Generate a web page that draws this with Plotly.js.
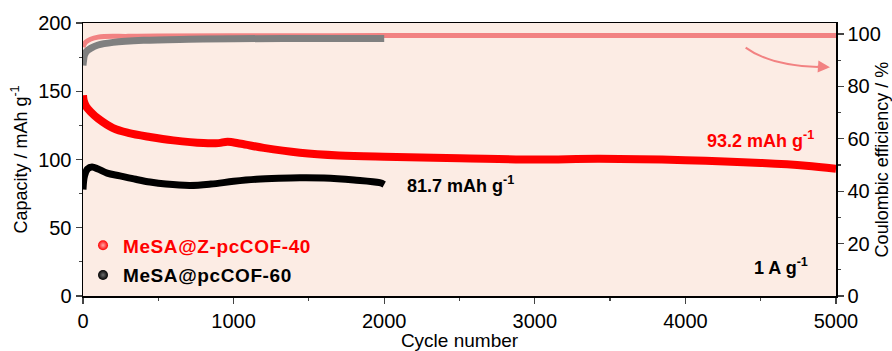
<!DOCTYPE html>
<html><head><meta charset="utf-8">
<script src="https://cdn.plot.ly/plotly-3.0.1.min.js"></script>
<style>html,body{margin:0;padding:0;background:#fff}</style>
</head><body><div id="chart" style="width:892px;height:351px"></div>
<script>
// Capacity (mAh g-1) vs cycle
const redCycles = [0, 5, 20, 50, 100, 200, 300, 445, 600, 800, 900, 960, 1050, 1200, 1440, 1700, 2000, 2500, 3000, 3430, 4000, 4500, 4800, 5000];
const redCap    = [147, 143, 139, 135, 130, 123, 119.5, 116.5, 114, 112, 112, 113, 111.5, 108.5, 105, 103, 102, 101, 100, 100.5, 99.5, 97.5, 95.5, 93.2];
const blackCycles = [0, 10, 30, 60, 100, 160, 245, 350, 445, 550, 710, 850, 1000, 1150, 1300, 1440, 1600, 1800, 1970, 2000];
const blackCap    = [78, 88, 93, 94.5, 93, 90, 88, 85.5, 83.5, 82, 81, 82, 84, 85.5, 86.3, 86.7, 86.5, 85, 83, 81.7];
// Coulombic efficiency (%)
const redCECycles = [0, 20, 100, 300, 500, 1000, 2000, 3000, 4000, 5000];
const redCE       = [95, 97, 98.8, 99.1, 99.2, 99.3, 99.4, 99.4, 99.4, 99.4];
const blackCECycles = [0, 5, 10, 25, 50, 100, 200, 400, 700, 1000, 1500, 2000];
const blackCE       = [88, 90.5, 92, 93.5, 94.5, 95.8, 96.8, 97.6, 98, 98.2, 98.3, 98.3];

const seriesNames = ['MeSA@Z-pcCOF-40', 'MeSA@pcCOF-60'];
const endLabels = ['93.2 mAh g<sup>-1</sup>', '81.7 mAh g<sup>-1</sup>'];
const rateLabel = '1 A g<sup>-1</sup>';

const RED = 'rgb(255,0,0)', BLACK = 'rgb(0,0,0)', PINK = 'rgb(242,130,130)', GREY = 'rgb(128,128,128)';
const LS = 'letter-spacing:0.6px';

const traces = [
  {x: redCECycles, y: redCE, yaxis: 'y2', mode: 'lines', line: {color: PINK, width: 5, shape: 'spline'}, showlegend: false, hoverinfo: 'skip'},
  {x: blackCECycles, y: blackCE, yaxis: 'y2', mode: 'lines', line: {color: GREY, width: 7, shape: 'spline'}, showlegend: false, hoverinfo: 'skip'},
  {x: redCycles, y: redCap, mode: 'lines', line: {color: RED, width: 8, shape: 'spline'}, showlegend: false},
  {x: blackCycles, y: blackCap, mode: 'lines', line: {color: BLACK, width: 7, shape: 'spline'}, showlegend: false},
  {x: [null], y: [null], mode: 'markers', name: '<b><span style="color:' + RED + ';' + LS + '">' + seriesNames[0] + '</span></b>', legendgroup: 'a',
   marker: {color: RED, size: 10, gradient: {type: 'radial', color: 'rgb(255,170,170)'}, line: {width: 0}}},
  {x: [null], y: [null], mode: 'markers', name: '<b><span style="' + LS + '">' + seriesNames[1] + '</span></b>', legendgroup: 'b',
   marker: {color: BLACK, size: 10, gradient: {type: 'radial', color: 'rgb(110,110,110)'}, line: {width: 0}}}
];

const fontFam = 'Liberation Sans, Arial, sans-serif';
const layout = {
  width: 892, height: 351,
  margin: {l: 83, r: 56, t: 23, b: 54.5},
  paper_bgcolor: '#ffffff', plot_bgcolor: 'rgb(252,236,228)',
  font: {family: fontFam, size: 20, color: '#000'},
  xaxis: {range: [0, 5000], tickvals: [0, 1000, 2000, 3000, 4000, 5000], ticks: 'outside', ticklen: 6, tickwidth: 1.3,
    minor: {dtick: 500, ticks: 'outside', ticklen: 3, tickwidth: 1.2}, showgrid: false, zeroline: false,
    showline: true, linecolor: '#000', linewidth: 1.5, mirror: true,
    tickfont: {size: 20}, title: {text: 'Cycle number', font: {size: 19}, standoff: 6}},
  yaxis: {range: [0, 200], tickvals: [0, 50, 100, 150, 200], ticks: 'outside', ticklen: 6, tickwidth: 1.3,
    minor: {dtick: 25, ticks: 'outside', ticklen: 3, tickwidth: 1.2}, showgrid: false, zeroline: false,
    showline: true, linecolor: '#000', linewidth: 1.5,
    tickfont: {size: 20}, title: {text: 'Capacity / mAh g<sup>-1</sup>', font: {size: 18}, standoff: 6}},
  yaxis2: {range: [0, 104.2], overlaying: 'y', side: 'right', tickvals: [0, 20, 40, 60, 80, 100], ticks: 'outside', ticklen: 6, tickwidth: 1.3,
    minor: {dtick: 10, ticks: 'outside', ticklen: 3, tickwidth: 1.2}, showgrid: false, zeroline: false,
    showline: true, linecolor: '#000', linewidth: 1.5,
    tickfont: {size: 20}, title: {text: 'Coulombic efficiency / %', font: {size: 18}, standoff: 6}},
  showlegend: true,
  legend: {x: 0.0, y: 0.255, xanchor: 'left', yanchor: 'top', bgcolor: 'rgba(0,0,0,0)', borderwidth: 0,
    font: {family: fontFam, size: 19}, traceorder: 'grouped', tracegroupgap: 2, itemwidth: 30},
  annotations: [
    {xref: 'x', yref: 'y', x: 4870, y: 115, xanchor: 'right', yanchor: 'middle', showarrow: false,
     text: '<b>' + endLabels[0] + '</b>', font: {size: 18, color: RED}},
    {xref: 'x', yref: 'y', x: 2140, y: 81.5, xanchor: 'left', yanchor: 'middle', showarrow: false,
     text: '<b>' + endLabels[1] + '</b>', font: {size: 18, color: BLACK}},
    {xref: 'x', yref: 'y', x: 4830, y: 21.5, xanchor: 'right', yanchor: 'middle', showarrow: false,
     text: '<b>' + rateLabel + '</b>', font: {size: 18, color: BLACK}},
    {xref: 'x', yref: 'y', x: 4960, y: 167.5, ax: -14, ay: -1, showarrow: true, arrowhead: 2, arrowsize: 1.2, arrowwidth: 2, arrowcolor: PINK, text: ''}
  ],
  shapes: [
    {type: 'path', xref: 'x', yref: 'y', path: 'M 4400,182 Q 4560,169 4880,167.7', line: {color: PINK, width: 2}}
  ]
};
Plotly.newPlot('chart', traces, layout, {displayModeBar: false, staticPlot: true});
</script></body></html>
